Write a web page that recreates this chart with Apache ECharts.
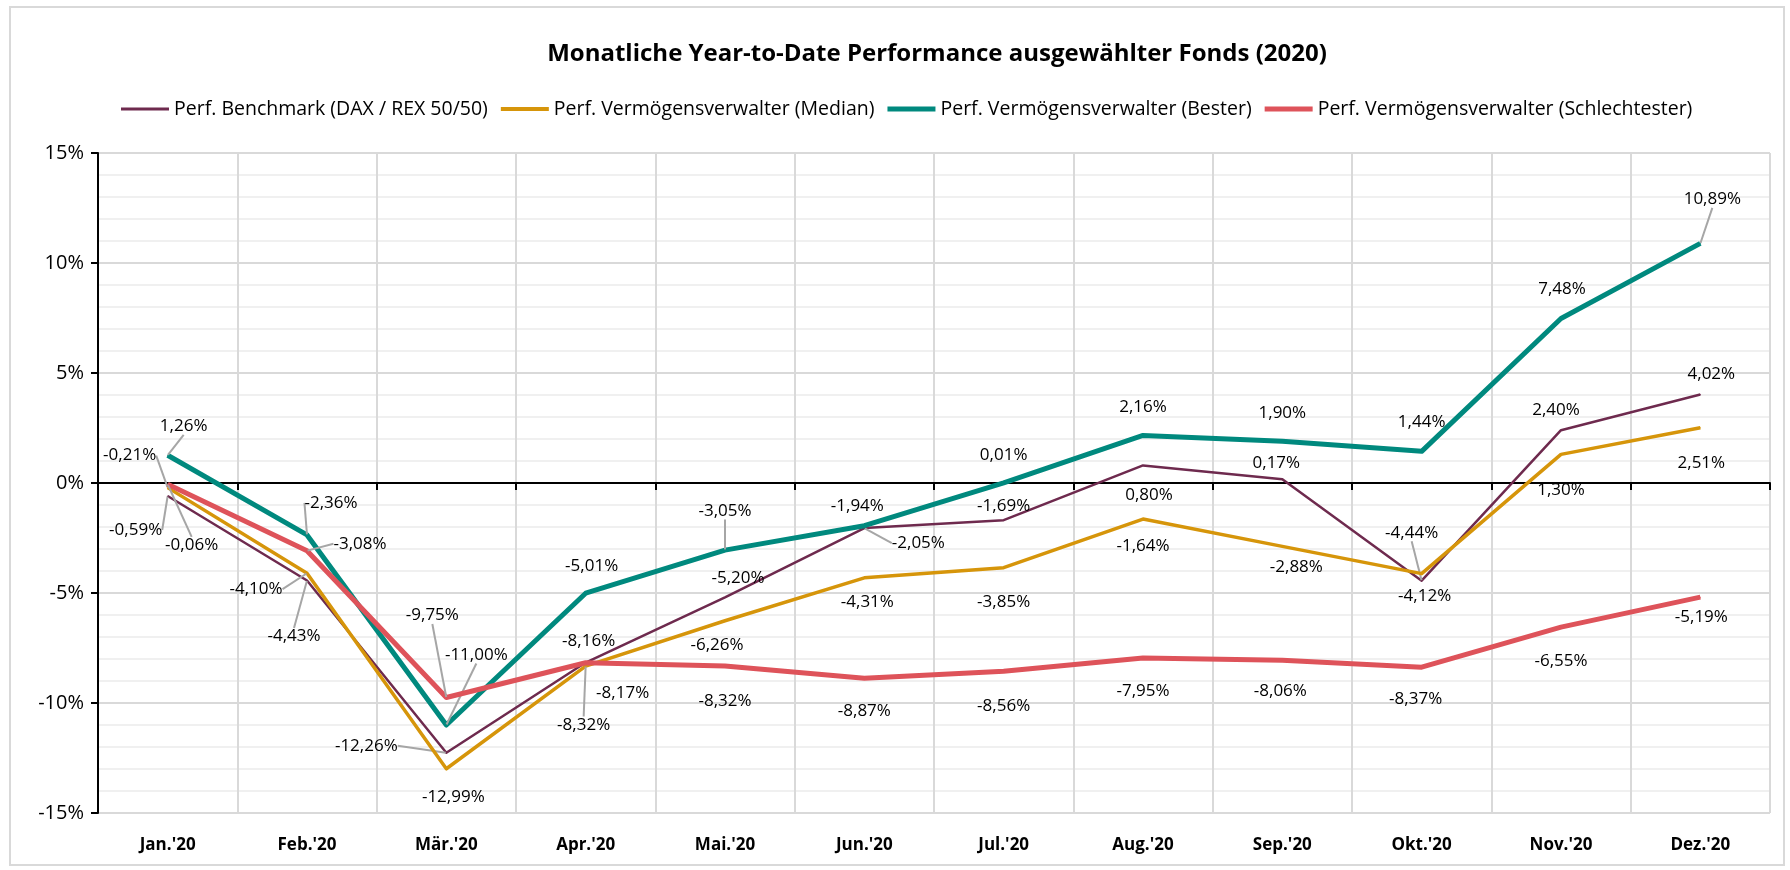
<!DOCTYPE html>
<html>
<head>
<meta charset="utf-8">
<title>Monatliche Year-to-Date Performance ausgewählter Fonds (2020)</title>
<script src="https://cdn.jsdelivr.net/npm/echarts@6.0.0/dist/echarts.min.js"></script>
<style>
html, body { margin: 0; padding: 0; background: #fff; }
#chart { width: 1790px; height: 870px; }
</style>
</head>
<body>
<div id="chart"></div>
<script>
// Monate
var months = ["Jan.'20", "Feb.'20", "Mär.'20", "Apr.'20", "Mai.'20", "Jun.'20",
              "Jul.'20", "Aug.'20", "Sep.'20", "Okt.'20", "Nov.'20", "Dez.'20"];

// Performance in %
var benchmark     = [-0.59, -4.43, -12.26, -8.16, -5.20, -2.05, -1.69, 0.80, 0.17, -4.44, 2.40, 4.02];
var median        = [-0.21, -4.10, -12.99, -8.32, -6.26, -4.31, -3.85, -1.64, -2.88, -4.12, 1.30, 2.51];
var bester        = [1.26, -2.36, -11.00, -5.01, -3.05, -1.94, 0.01, 2.16, 1.90, 1.44, 7.48, 10.89];
var schlechtester = [-0.06, -3.08, -9.75, -8.17, -8.32, -8.87, -8.56, -7.95, -8.06, -8.37, -6.55, -5.19];

var yTicks = { min: -15, max: 15, step: 5 };

// Verschiebung der Datenbeschriftungen [dx, dy] und welche eine Führungslinie haben
var benchShift = [[-32, 34], [-13, 56], [-80, -7], [3, -21], [13, -19], [54, 15], [0, -14], [6, 30], [-6, -16], [-10, -48], [-5, -20], [11, -20]];
var benchLeader = [0, 1, 2, 5, 9];
var medianShift = [[-38, -32], [-51, 16], [7, 28], [-2, 59], [-8, 24], [3, 24], [0, 34], [0, 27], [14, 21], [3, 23], [0, 36], [1, 35]];
var medianLeader = [0, 1, 3];
var besterShift = [[16, -29], [24, -32], [30, -70], [6, -27], [0, -39], [-7, -20], [0, -28], [0, -28], [0, -28], [0, -29], [1, -29], [12, -44]];
var besterLeader = [0, 1, 2, 4, 11];
var schlShift = [[24, 61], [53, -7], [-14, -82], [37, 30], [0, 35], [0, 33], [0, 35], [0, 33], [-2, 31], [-6, 32], [0, 34], [1, 20]];
var schlLeader = [0, 1, 2];

var font = "'Open Sans', 'Liberation Sans', sans-serif";

function fmt(v) {
    return v.toFixed(2).replace('.', ',') + '%';
}

function makeSeries(name, values, shifts, leaders, color, width, z) {
    return {
        name: name,
        type: 'line',
        xAxisIndex: 0,
        z: z,
        data: values.map(function (v, i) {
            var item = { value: v };
            if (leaders.indexOf(i) >= 0) item.labelLine = { show: true };
            return item;
        }),
        symbol: 'circle',
        symbolSize: 1,
        showSymbol: true,
        itemStyle: { color: color },
        lineStyle: { color: color, width: width, join: 'round' },
        label: {
            show: true,
            position: 'inside',
            color: '#000',
            fontSize: 17,
            fontFamily: font,
            formatter: function (p) { return fmt(p.value); }
        },
        labelLine: {
            show: false,
            lineStyle: { color: '#A6A6A6', width: 2 }
        },
        labelLayout: function (p) {
            var s = shifts[p.dataIndex];
            return { dx: s[0], dy: s[1] };
        },
        emphasis: { disabled: true }
    };
}

var chart = echarts.init(document.getElementById('chart'));
chart.setOption({
    animation: false,
    backgroundColor: '#fff',
    title: {
        text: 'Monatliche Year-to-Date Performance ausgewählter Fonds (2020)',
        left: 932,
        textAlign: 'center',
        top: 37,
        textStyle: { fontFamily: font, fontSize: 24, fontWeight: 'bold', color: '#000' }
    },
    legend: {
        top: 94,
        left: 116,
        itemWidth: 48,
        itemHeight: 5,
        itemGap: 13,
        textStyle: { fontFamily: font, fontSize: 19.5, color: '#000' },
        data: [
            { name: 'Perf. Benchmark (DAX / REX 50/50)', icon: 'path://M0,0H48V3H0Z' },
            { name: 'Perf. Vermögensverwalter (Median)', icon: 'path://M0,0H48V4H0Z' },
            { name: 'Perf. Vermögensverwalter (Bester)', icon: 'path://M0,0H48V5H0Z' },
            { name: 'Perf. Vermögensverwalter (Schlechtester)', icon: 'path://M0,0H48V5H0Z' }
        ]
    },
    graphic: [{
        type: 'rect',
        silent: true,
        z: -10,
        shape: { x: 10, y: 7, width: 1774, height: 858 },
        style: { fill: 'none', stroke: '#D9D9D9', lineWidth: 2 }
    }],
    grid: { left: 98, right: 20, top: 153, bottom: 57, containLabel: false },
    xAxis: [{
        type: 'category',
        data: months,
        boundaryGap: true,
        axisLine: { onZero: true, lineStyle: { color: '#000', width: 2 } },
        axisTick: { show: true, length: 7, lineStyle: { color: '#000', width: 2 } },
        axisLabel: { show: false },
        splitLine: { show: true, lineStyle: { color: '#D9D9D9', width: 2 } }
    }, {
        type: 'category',
        data: months,
        position: 'bottom',
        boundaryGap: true,
        axisLine: { show: false, onZero: false },
        axisTick: { show: false },
        splitLine: { show: false },
        axisLabel: { fontFamily: font, fontSize: 17, fontWeight: 'bold', color: '#000', margin: 24 }
    }],
    yAxis: {
        type: 'value',
        min: yTicks.min,
        max: yTicks.max,
        interval: yTicks.step,
        axisLine: { show: true, lineStyle: { color: '#000', width: 2 } },
        axisTick: { show: true, length: 7, lineStyle: { color: '#000', width: 2 } },
        axisLabel: { formatter: '{value}%', fontFamily: font, fontSize: 20, color: '#000', margin: 14 },
        splitLine: { lineStyle: { color: '#D9D9D9', width: 2 } },
        minorTick: { show: false, splitNumber: 5 },
        minorSplitLine: { show: true, lineStyle: { color: '#F0F0F0', width: 2 } }
    },
    series: [
        makeSeries('Perf. Benchmark (DAX / REX 50/50)', benchmark, benchShift, benchLeader, '#6E2A4E', 2.5, 3),
        makeSeries('Perf. Vermögensverwalter (Median)', median, medianShift, medianLeader, '#D6950A', 3.5, 4),
        makeSeries('Perf. Vermögensverwalter (Bester)', bester, besterShift, besterLeader, '#00897E', 5, 5),
        makeSeries('Perf. Vermögensverwalter (Schlechtester)', schlechtester, schlShift, schlLeader, '#DE535A', 5, 6)
    ]
});
</script>
</body>
</html>
